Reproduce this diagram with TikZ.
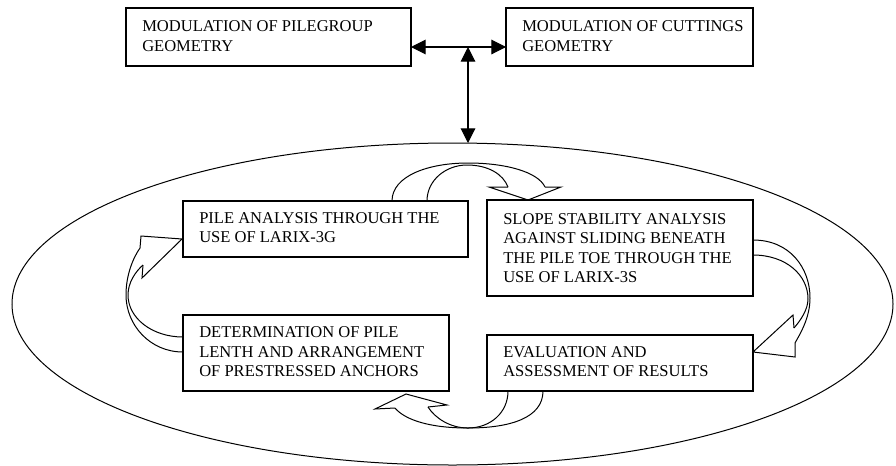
\documentclass[tikz,border=0pt]{standalone}
\usepackage{fontspec}
\setmainfont{Liberation Serif}
\usetikzlibrary{arrows.meta,shapes.geometric}
\tikzset{
  stepbox/.style={draw, line width=0.8pt, rectangle, anchor=north west, inner sep=0pt, outer sep=0pt},
  boxtext/.style={anchor=west, inner sep=0pt, align=left, font=\fontsize{12.4}{14.6}\selectfont},
  dbl/.style={line width=0.8pt, {Triangle[length=11pt,width=11pt]}-{Triangle[length=11pt,width=11pt]}},
  blockarrow/.style={draw, line width=0.75pt, line join=miter},
}
\begin{document}
\begin{tikzpicture}[x=0.75pt,y=-0.75pt]
\useasboundingbox (0,0) rectangle (896,465);
% big ellipse
\node[draw, ellipse, line width=0.75pt, minimum width=660.75pt, minimum height=241.5pt, inner sep=0pt, outer sep=0pt] (ell) at (452.5,304) {};
% top boxes
\node[stepbox, minimum width=213.75pt, minimum height=43.5pt] (b1) at (126,8) {};
\node[boxtext] (t1) at ([xshift=12pt,yshift=0.5pt]b1.west) {MODULATION OF PILEGROUP\\GEOMETRY};
\node[stepbox, minimum width=185.25pt, minimum height=43.5pt] (b2) at (506,8) {};
\node[boxtext] (t2) at ([xshift=12pt,yshift=0.5pt]b2.west) {MODULATION OF CUTTINGS\\GEOMETRY};
% inner boxes
\node[stepbox, minimum width=213.75pt, minimum height=42pt] (b3) at (183,201) {};
\node[boxtext] (t3) at ([xshift=12pt,yshift=1pt]b3.west) {PILE ANALYSIS THROUGH THE\\USE OF LARIX-3G};
\node[stepbox, minimum width=199.5pt, minimum height=72pt] (b4) at (487,200) {};
\node[boxtext] (t4) at ([xshift=12pt]b4.west) {SLOPE STABILITY ANALYSIS\\AGAINST SLIDING BENEATH\\THE PILE TOE THROUGH THE\\USE OF LARIX-3S};
\node[stepbox, minimum width=199.5pt, minimum height=57pt] (b5) at (183,315) {};
\node[boxtext] (t5) at ([xshift=12pt,yshift=1pt]b5.west) {DETERMINATION OF PILE\\LENTH AND ARRANGEMENT\\OF PRESTRESSED ANCHORS};
\node[stepbox, minimum width=199.5pt, minimum height=42pt] (b6) at (487,335) {};
\node[boxtext] (t6) at ([xshift=12pt,yshift=1pt]b6.west) {EVALUATION AND\\ASSESSMENT OF RESULTS};
% top connectors
\coordinate (hub) at (468,47);
\draw[dbl] (b1.east |- hub) -- (b2.west |- hub);
\draw[dbl] (hub) -- (hub |- ell.north);
% curved block arrow: b3 -> b4
\draw[blockarrow] (392,201) -- (427,201);
\draw[blockarrow] (392,201) .. controls (392,176) and (428,163) .. (468,163) .. controls (506,163) and (538,172) .. (545,187);
\draw[blockarrow] (427,201) .. controls (427,180) and (446,165) .. (467,165) .. controls (488,165) and (503,174) .. (508,187);
\draw[blockarrow] (508,187) -- (489,187) -- (528,200) -- (561,187) -- (545,187);
% curved block arrow: b4 -> b6
\draw[blockarrow] (753,240) -- (753,255);
\draw[blockarrow] (753,240) .. controls (790,240) and (810,268) .. (810,298) .. controls (810,318) and (800,334) .. (795,343);
\draw[blockarrow] (753,255) .. controls (786,255) and (808,275) .. (808,299) .. controls (808,310) and (800,321) .. (794,328);
\draw[blockarrow] (794,328) -- (793,315) -- (753,352) -- (795,357) -- (795,343);
% curved block arrow: b6 -> b5
\draw[blockarrow] (508,391) -- (543,391);
\draw[blockarrow] (543,391) .. controls (543,418) and (510,428) .. (468,428) .. controls (430,428) and (405,420) .. (395,408);
\draw[blockarrow] (508,391) .. controls (508,413) and (490,428) .. (468,428) .. controls (450,428) and (435,418) .. (428,407);
\draw[blockarrow] (428,407) -- (447,405) -- (406,394) -- (375,409) -- (395,408);
% curved block arrow: b5 -> b3
\draw[blockarrow] (183,337) -- (183,352);
\draw[blockarrow] (183,352) .. controls (150,352) and (126,325) .. (126,295) .. controls (126,275) and (133,258) .. (140,248);
\draw[blockarrow] (183,337) .. controls (152,337) and (128,318) .. (128,295) .. controls (128,283) and (135,272) .. (143,265);
\draw[blockarrow] (143,265) -- (142,278) -- (182,239) -- (141,236) -- (140,248);
\end{tikzpicture}
\end{document}
